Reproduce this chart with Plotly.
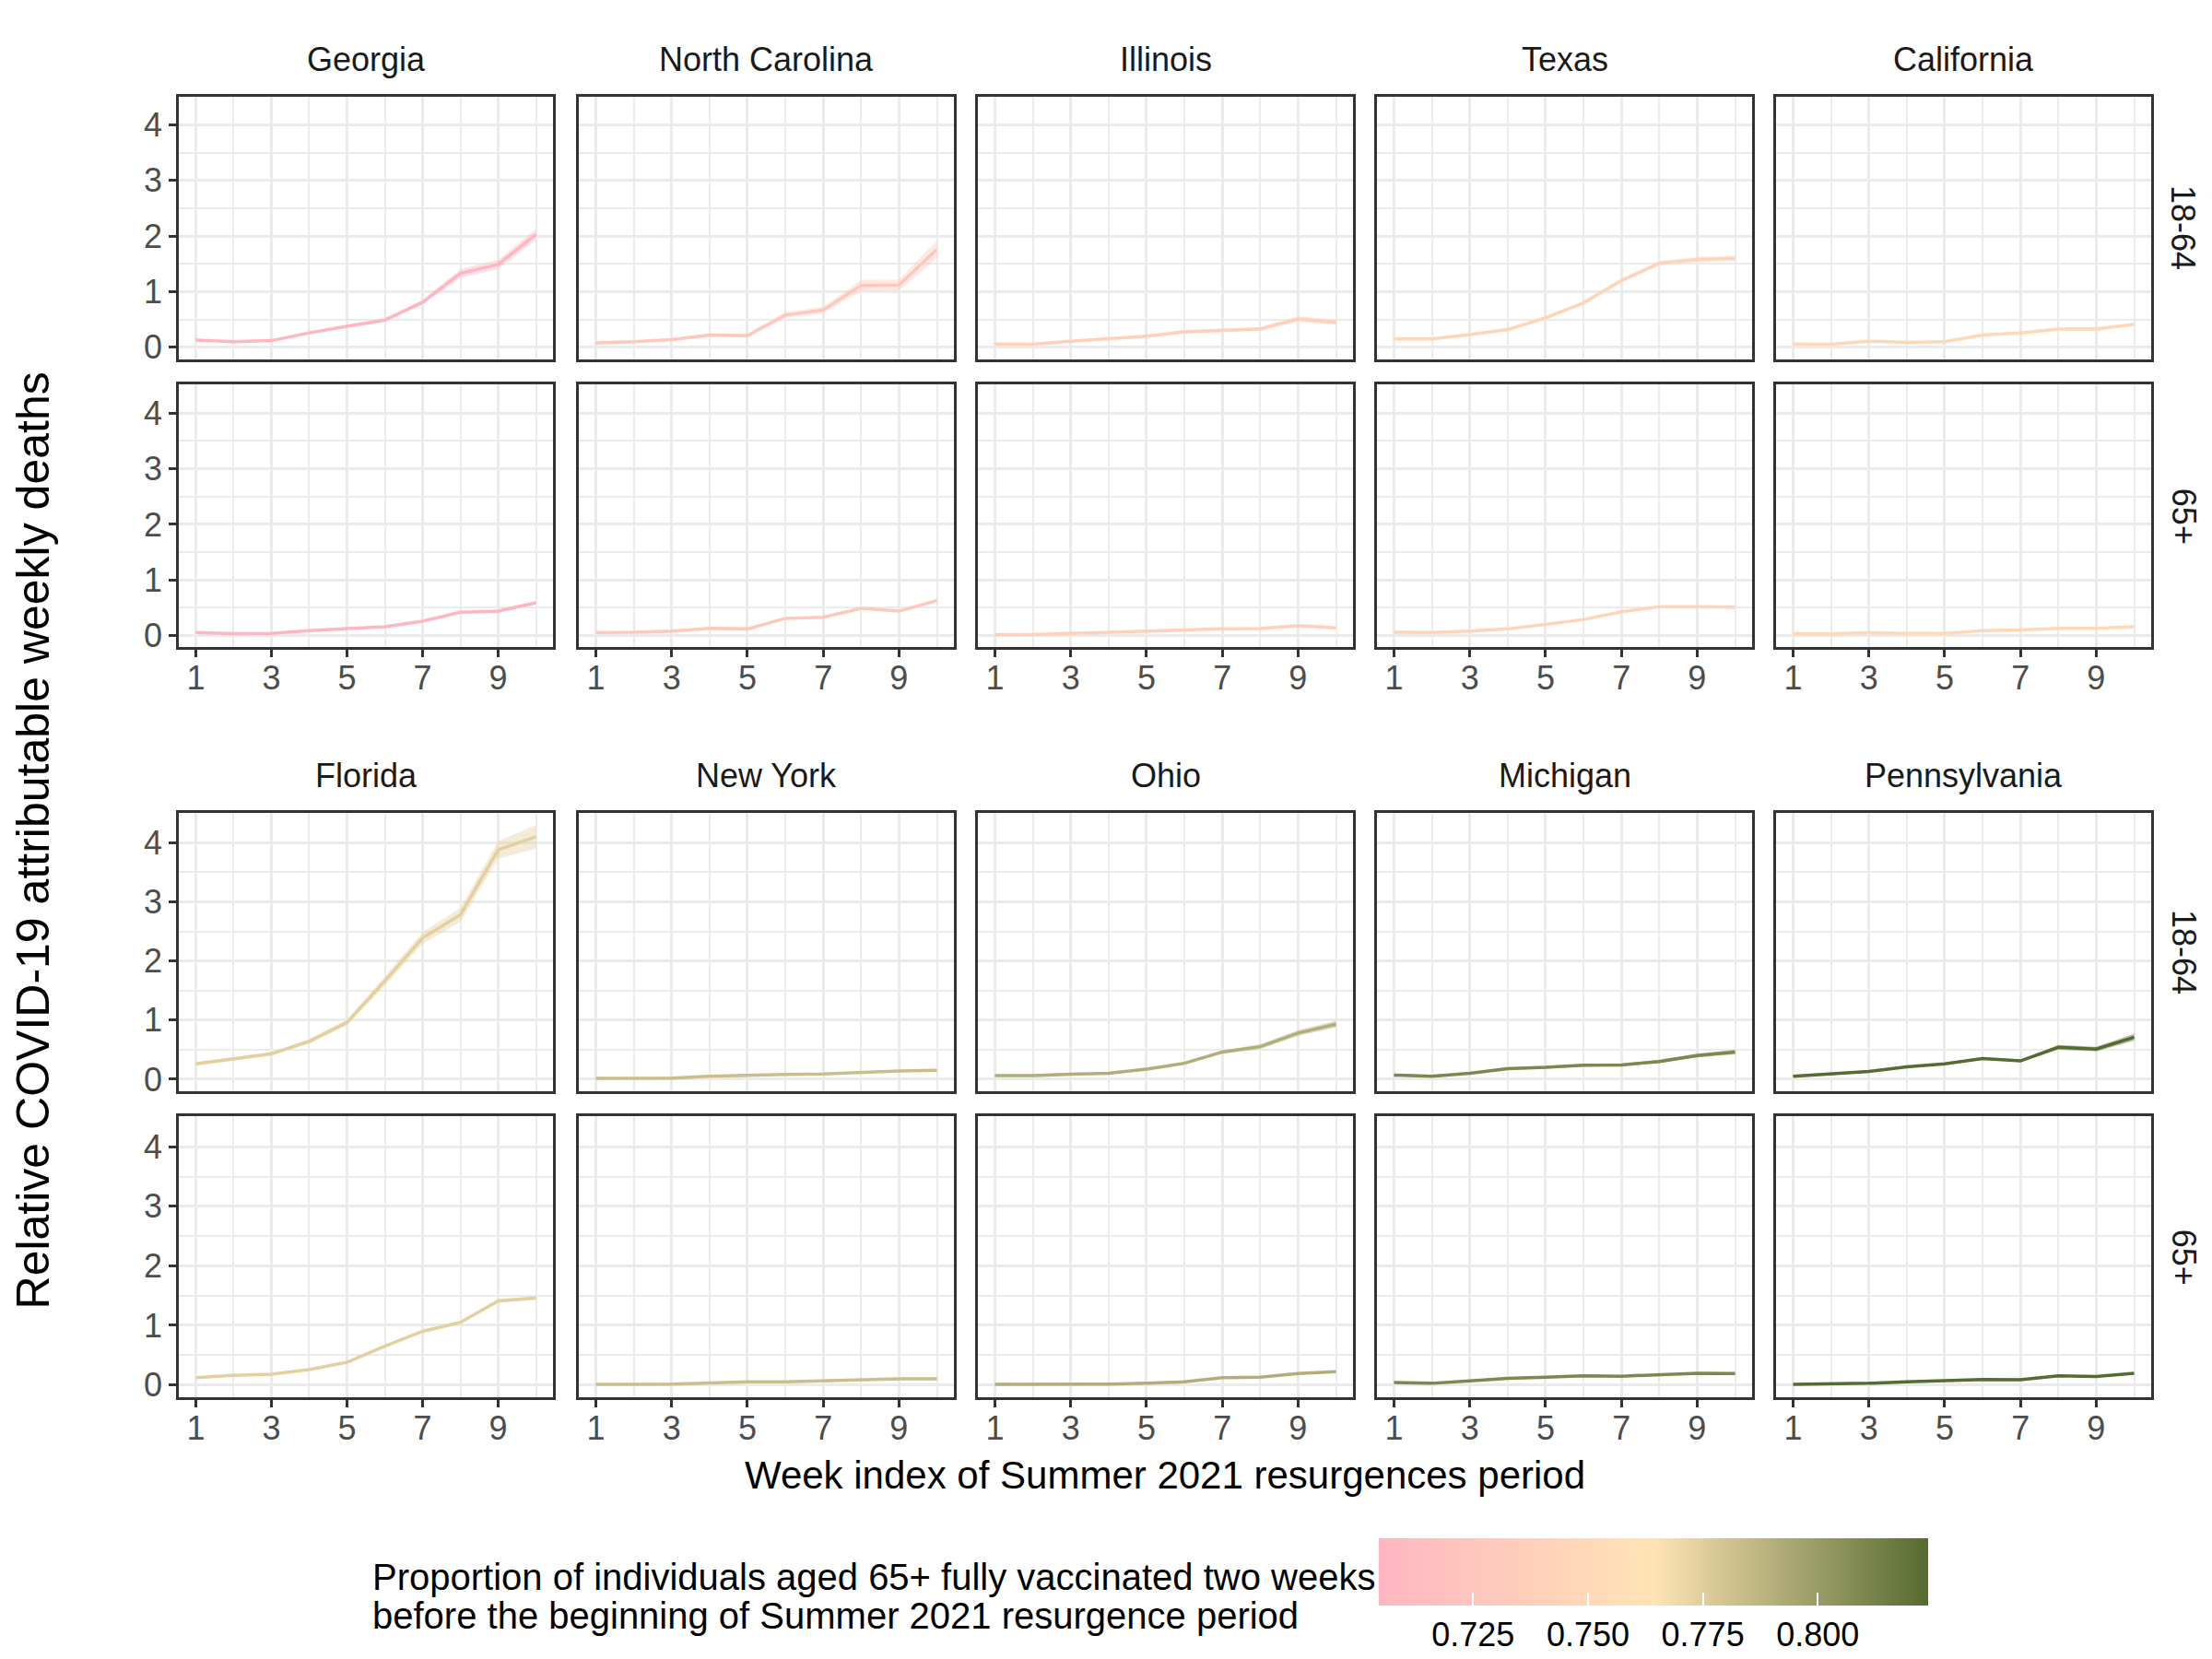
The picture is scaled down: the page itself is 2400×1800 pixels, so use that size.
import plotly.graph_objects as go
from plotly.colors import sample_colorscale

# ---- data ----
weeks = [1, 2, 3, 4, 5, 6, 7, 8, 9, 10]

states_top = ["Georgia", "North Carolina", "Illinois", "Texas", "California"]
states_bottom = ["Florida", "New York", "Ohio", "Michigan", "Pennsylvania"]
age_groups = ["18-64", "65+"]

# proportion of 65+ fully vaccinated (colour variable)
vax_prop = {
    "Georgia": 0.7045, "North Carolina": 0.728, "Illinois": 0.738,
    "Texas": 0.745, "California": 0.749, "Florida": 0.774,
    "New York": 0.783, "Ohio": 0.791, "Michigan": 0.810,
    "Pennsylvania": 0.824,
}

# mean relative attributable weekly deaths, 18-64
mean_1864 = {
    "Georgia":        [0.13, 0.10, 0.12, 0.26, 0.38, 0.49, 0.81, 1.33, 1.49, 2.03],
    "North Carolina": [0.08, 0.10, 0.14, 0.22, 0.21, 0.58, 0.67, 1.11, 1.12, 1.76],
    "Illinois":       [0.06, 0.055, 0.11, 0.16, 0.20, 0.28, 0.30, 0.33, 0.51, 0.45],
    "Texas":          [0.15, 0.15, 0.23, 0.32, 0.53, 0.80, 1.20, 1.51, 1.58, 1.60],
    "California":     [0.06, 0.055, 0.11, 0.09, 0.10, 0.22, 0.26, 0.33, 0.33, 0.41],
    "Florida":        [0.26, 0.35, 0.43, 0.64, 0.96, 1.66, 2.39, 2.78, 3.88, 4.10],
    "New York":       [0.015, 0.015, 0.02, 0.05, 0.07, 0.08, 0.09, 0.12, 0.14, 0.15],
    "Ohio":           [0.06, 0.06, 0.085, 0.10, 0.17, 0.27, 0.46, 0.55, 0.78, 0.93],
    "Michigan":       [0.07, 0.05, 0.10, 0.18, 0.20, 0.235, 0.24, 0.30, 0.40, 0.46],
    "Pennsylvania":   [0.05, 0.085, 0.13, 0.21, 0.26, 0.35, 0.31, 0.54, 0.51, 0.71],
}
# half-width of the uncertainty ribbon, 18-64
band_1864 = {
    "Georgia":        [0.02, 0.02, 0.02, 0.02, 0.02, 0.03, 0.04, 0.08, 0.08, 0.10],
    "North Carolina": [0.02, 0.02, 0.02, 0.03, 0.03, 0.05, 0.06, 0.10, 0.10, 0.16],
    "Illinois":       [0.02, 0.02, 0.02, 0.02, 0.02, 0.03, 0.03, 0.03, 0.05, 0.05],
    "Texas":          [0.02, 0.02, 0.02, 0.02, 0.03, 0.03, 0.04, 0.04, 0.05, 0.05],
    "California":     [0.02, 0.02, 0.02, 0.02, 0.02, 0.02, 0.02, 0.03, 0.03, 0.03],
    "Florida":        [0.03, 0.03, 0.03, 0.04, 0.05, 0.08, 0.10, 0.12, 0.15, 0.20],
    "New York":       [0.01, 0.01, 0.01, 0.01, 0.01, 0.01, 0.01, 0.02, 0.02, 0.02],
    "Ohio":           [0.02, 0.02, 0.02, 0.02, 0.02, 0.02, 0.03, 0.04, 0.05, 0.06],
    "Michigan":       [0.02, 0.02, 0.02, 0.02, 0.02, 0.02, 0.02, 0.03, 0.03, 0.04],
    "Pennsylvania":   [0.02, 0.02, 0.02, 0.02, 0.02, 0.02, 0.02, 0.04, 0.04, 0.06],
}

# mean relative attributable weekly deaths, 65+
mean_65 = {
    "Georgia":        [0.055, 0.035, 0.04, 0.09, 0.125, 0.16, 0.26, 0.42, 0.44, 0.59],
    "North Carolina": [0.055, 0.06, 0.08, 0.13, 0.12, 0.31, 0.33, 0.49, 0.44, 0.63],
    "Illinois":       [0.02, 0.02, 0.04, 0.06, 0.08, 0.11, 0.12, 0.125, 0.18, 0.14],
    "Texas":          [0.06, 0.055, 0.08, 0.12, 0.20, 0.29, 0.43, 0.52, 0.52, 0.51],
    "California":     [0.03, 0.03, 0.055, 0.04, 0.04, 0.09, 0.10, 0.13, 0.13, 0.16],
    "Florida":        [0.12, 0.16, 0.18, 0.255, 0.38, 0.65, 0.90, 1.05, 1.41, 1.46],
    "New York":       [0.01, 0.01, 0.013, 0.03, 0.05, 0.05, 0.065, 0.09, 0.10, 0.10],
    "Ohio":           [0.01, 0.01, 0.013, 0.013, 0.026, 0.05, 0.12, 0.13, 0.19, 0.22],
    "Michigan":       [0.04, 0.026, 0.065, 0.11, 0.13, 0.15, 0.145, 0.165, 0.195, 0.19],
    "Pennsylvania":   [0.01, 0.013, 0.026, 0.05, 0.065, 0.09, 0.085, 0.15, 0.14, 0.195],
}
# half-width of the uncertainty ribbon, 65+
band_65 = {
    "Georgia":        [0.01, 0.01, 0.01, 0.01, 0.01, 0.01, 0.01, 0.02, 0.02, 0.02],
    "North Carolina": [0.01, 0.01, 0.01, 0.01, 0.01, 0.01, 0.01, 0.02, 0.02, 0.02],
    "Illinois":       [0.01, 0.01, 0.01, 0.01, 0.01, 0.01, 0.01, 0.01, 0.01, 0.01],
    "Texas":          [0.01, 0.01, 0.01, 0.01, 0.01, 0.01, 0.01, 0.01, 0.01, 0.01],
    "California":     [0.01, 0.01, 0.01, 0.01, 0.01, 0.01, 0.01, 0.01, 0.01, 0.01],
    "Florida":        [0.01, 0.01, 0.01, 0.01, 0.01, 0.02, 0.02, 0.02, 0.03, 0.03],
    "New York":       [0.01, 0.01, 0.01, 0.01, 0.01, 0.01, 0.01, 0.01, 0.01, 0.01],
    "Ohio":           [0.01, 0.01, 0.01, 0.01, 0.01, 0.01, 0.01, 0.01, 0.01, 0.01],
    "Michigan":       [0.01, 0.01, 0.01, 0.01, 0.01, 0.01, 0.01, 0.01, 0.01, 0.01],
    "Pennsylvania":   [0.01, 0.01, 0.01, 0.01, 0.01, 0.01, 0.01, 0.01, 0.01, 0.01],
}

colorbar_ticks = [0.725, 0.750, 0.775, 0.800]

# ---- styling / layout ----
W, H = 2400, 1800
FONT = "Liberation Sans, Arial, sans-serif"
colorscale = [[0.0, "#FFB6C1"], [0.5, "#FFE4B5"], [1.0, "#556B2F"]]
cmin = min(vax_prop.values())
cmax = max(vax_prop.values())

# panel boxes in pixels (left, right) and (top, bottom)
col_px = [(186, 592), (620, 1027), (1053, 1460), (1486, 1893), (1919, 2326)]
row_px = {
    ("top", "18-64"): (97, 383), ("top", "65+"): (411, 697),
    ("bottom", "18-64"): (877, 1181), ("bottom", "65+"): (1208, 1514),
}


def px_x(v):
    return v / W


def px_y(v):
    return 1 - v / H


def state_color(state, alpha=None):
    t = (vax_prop[state] - cmin) / (cmax - cmin)
    c = sample_colorscale(colorscale, [t])[0]
    if alpha is None:
        return c
    return c.replace("rgb(", "rgba(").replace(")", f", {alpha})")


fig = go.Figure()
layout = {}
annotations = []

k = 0
for block, states in (("top", states_top), ("bottom", states_bottom)):
    for age in age_groups:
        means = mean_1864 if age == "18-64" else mean_65
        bands = band_1864 if age == "18-64" else band_65
        top, bottom = row_px[(block, age)]
        for c, state in enumerate(states):
            k += 1
            sfx = "" if k == 1 else str(k)
            left, right = col_px[c]
            bottom_row = age == "65+"
            first_col = c == 0

            m = means[state]
            b = bands[state]
            upper = [mi + bi for mi, bi in zip(m, b)]
            lower = [mi - bi for mi, bi in zip(m, b)]
            fig.add_trace(go.Scatter(
                x=weeks + weeks[::-1], y=upper + lower[::-1],
                fill="toself", fillcolor=state_color(state, 0.4),
                line=dict(width=0), mode="lines", hoverinfo="skip",
                showlegend=False, xaxis="x" + sfx, yaxis="y" + sfx))
            fig.add_trace(go.Scatter(
                x=weeks, y=m, mode="lines",
                line=dict(color=state_color(state), width=3.5),
                showlegend=False, name=f"{state} {age}",
                xaxis="x" + sfx, yaxis="y" + sfx))

            layout["xaxis" + sfx] = dict(
                domain=[px_x(left), px_x(right)], anchor="y" + sfx,
                range=[0.55, 10.45], tickmode="linear", tick0=1, dtick=2,
                showgrid=True, gridcolor="#EBEBEB", gridwidth=3,
                minor=dict(tick0=0, dtick=1, showgrid=True,
                           gridcolor="#EBEBEB", gridwidth=1.5),
                zeroline=False, showline=True, mirror=True,
                linecolor="#333333", linewidth=2.5,
                ticks="outside" if bottom_row else "", ticklen=8,
                tickwidth=3, tickcolor="#333333",
                showticklabels=bottom_row, ticklabelstandoff=-8,
                tickfont=dict(size=36, color="#4D4D4D"))
            layout["yaxis" + sfx] = dict(
                domain=[px_y(bottom), px_y(top)], anchor="x" + sfx,
                range=[-0.21, 4.51], tickmode="linear", tick0=0, dtick=1,
                showgrid=True, gridcolor="#EBEBEB", gridwidth=3,
                minor=dict(tick0=0, dtick=0.5, showgrid=True,
                           gridcolor="#EBEBEB", gridwidth=1.5),
                zeroline=False, showline=True, mirror=True,
                linecolor="#333333", linewidth=2.5,
                ticks="outside" if first_col else "", ticklen=8,
                tickwidth=3, tickcolor="#333333",
                showticklabels=first_col,
                tickfont=dict(size=36, color="#4D4D4D"))

            # facet titles above the first row of each block
            if age == "18-64":
                annotations.append(dict(
                    text=state, x=px_x((left + right) / 2), y=px_y(top - 40),
                    xref="paper", yref="paper", showarrow=False,
                    xanchor="center", yanchor="middle",
                    font=dict(size=36, color="#1A1A1A")))
        # row strip on the right
        annotations.append(dict(
            text=age, x=px_x(2361), y=px_y((top + bottom) / 2),
            xref="paper", yref="paper", showarrow=False, textangle=90,
            xanchor="center", yanchor="middle",
            font=dict(size=36, color="#1A1A1A")))

# colourbar carrier
fig.add_trace(go.Scatter(
    x=[None], y=[None], mode="markers", showlegend=False, hoverinfo="skip",
    marker=dict(color=[cmin], colorscale=colorscale, cmin=cmin, cmax=cmax,
                showscale=True,
                colorbar=dict(
                    orientation="h", x=px_x(1786), xanchor="center",
                    y=px_y(1667), yanchor="top", xpad=0, ypad=0,
                    len=596 / W, lenmode="fraction",
                    thickness=73, thicknessmode="pixels",
                    outlinewidth=0, tickmode="array",
                    tickvals=colorbar_ticks,
                    ticktext=[f"{v:.3f}" for v in colorbar_ticks],
                    ticks="inside", ticklen=14, tickwidth=2,
                    tickcolor="white",
                    tickfont=dict(size=36, color="#000000"))),
    xaxis="x", yaxis="y"))

annotations += [
    dict(text="Relative COVID-19 attributable weekly deaths",
         x=px_x(28), y=px_y(908), xref="paper", yref="paper",
         showarrow=False, textangle=-90, xanchor="center", yanchor="middle",
         font=dict(size=50, color="#000000")),
    dict(text="Week index of Summer 2021 resurgences period",
         x=px_x(1256), y=px_y(1599), xref="paper", yref="paper",
         showarrow=False, xanchor="center", yanchor="middle",
         font=dict(size=42, color="#000000")),
    dict(text="Proportion of individuals aged 65+ fully vaccinated two weeks",
         x=px_x(394), y=px_y(1710), xref="paper", yref="paper",
         showarrow=False, xanchor="left", yanchor="middle",
         font=dict(size=40, color="#000000")),
    dict(text="before the beginning of Summer 2021 resurgence period",
         x=px_x(394), y=px_y(1752), xref="paper", yref="paper",
         showarrow=False, xanchor="left", yanchor="middle",
         font=dict(size=40, color="#000000")),
]

fig.update_layout(
    width=W, height=H,
    margin=dict(l=0, r=0, t=0, b=0),
    paper_bgcolor="white", plot_bgcolor="white",
    font=dict(family=FONT),
    annotations=annotations,
    **layout)

fig.write_html("out.html")
